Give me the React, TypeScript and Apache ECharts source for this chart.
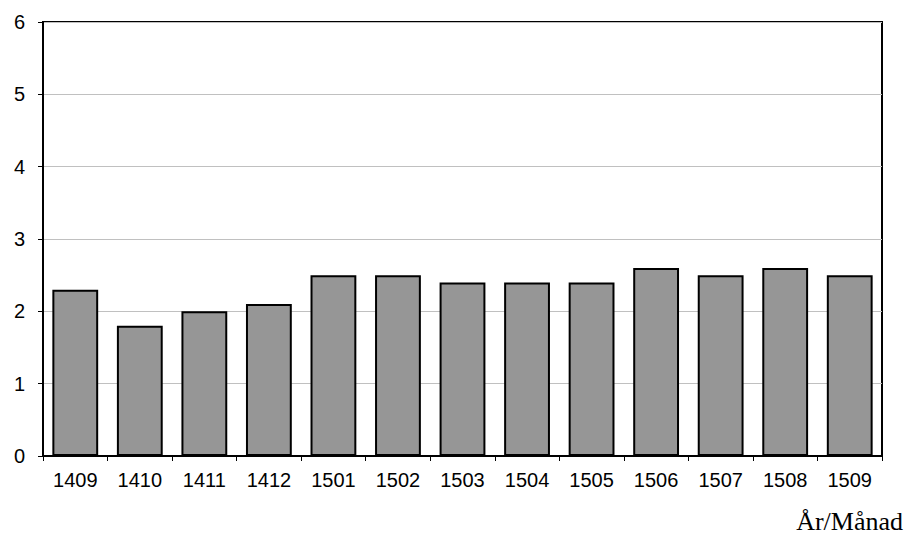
import React, { useEffect, useRef } from "react";
import * as echarts from "echarts";

const categories = ["1409", "1410", "1411", "1412", "1501", "1502", "1503", "1504", "1505", "1506", "1507", "1508", "1509"];
const values = [2.3, 1.8, 2.0, 2.1, 2.5, 2.5, 2.4, 2.4, 2.4, 2.6, 2.5, 2.6, 2.5];
const yTicks = [0, 1, 2, 3, 4, 5, 6];
const xAxisTitle = "År/Månad";

export default function App() {
  const ref = useRef<HTMLDivElement>(null);
  useEffect(() => {
    if (!ref.current) return;
    const chart = echarts.init(ref.current, undefined, { renderer: "svg" });
    chart.setOption({
      animation: false,
      backgroundColor: "#ffffff",
      grid: {
        left: 43,
        top: 22,
        right: 25,
        bottom: 82,
        show: true,
        borderColor: "#000000",
        borderWidth: 2,
        containLabel: false,
      },
      xAxis: {
        type: "category",
        data: categories,
        axisLine: { show: true, lineStyle: { color: "#000000", width: 2 } },
        axisTick: { show: true, alignWithLabel: false, length: 5, lineStyle: { color: "#000000", width: 1 } },
        axisLabel: { color: "#000000", fontFamily: "Liberation Sans", fontSize: 20, margin: 14 },
        splitLine: { show: false },
      },
      yAxis: {
        type: "value",
        min: yTicks[0],
        max: yTicks[yTicks.length - 1],
        interval: 1,
        axisLine: { show: true, lineStyle: { color: "#000000", width: 2 } },
        axisTick: { show: true, length: 5, lineStyle: { color: "#000000", width: 1 } },
        axisLabel: { color: "#000000", fontFamily: "Liberation Sans", fontSize: 20, margin: 18 },
        splitLine: { show: true, lineStyle: { color: "#c0c0c0", width: 1 } },
      },
      series: [
        {
          type: "bar",
          data: values,
          barCategoryGap: "29%",
          itemStyle: { color: "#969696", borderColor: "#000000", borderWidth: 2 },
        },
      ],
      graphic: [
        {
          type: "text",
          right: 4,
          top: 508,
          style: {
            text: xAxisTitle,
            fill: "#000000",
            font: "26px 'Liberation Serif'",
          },
        },
      ],
    });
    return () => chart.dispose();
  }, []);
  return <div ref={ref} style={{ position: "fixed", left: 0, top: 0, width: 907, height: 538 }} />;
}
